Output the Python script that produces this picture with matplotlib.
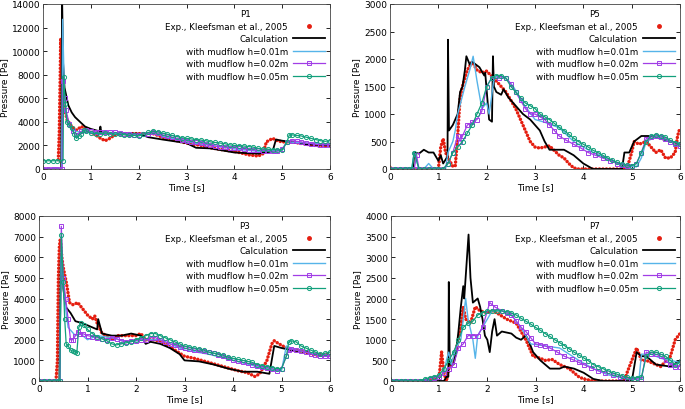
import matplotlib
matplotlib.use("Agg")
import matplotlib.pyplot as plt
from matplotlib.lines import Line2D

plt.rcParams['font.family'] = ['DejaVu Sans']
plt.rcParams['font.size'] = 6

# ---- P1 ----
p1_exp_t = [0.32, 0.34, 0.36, 0.37, 0.39, 0.42, 0.46, 0.5, 0.6, 0.7, 0.8, 0.9, 1.0, 1.1, 1.2, 1.3, 1.4,
            1.5, 1.7, 2.0, 2.3, 2.5, 2.8, 3.0, 3.3, 3.5, 3.8, 4.0, 4.3, 4.5, 4.6, 4.67, 4.8, 4.9, 5.0,
            5.2, 5.5, 5.8, 6.0]
p1_exp_p = [800, 3000, 8000, 11100, 9000, 6500, 5000, 4200, 3600, 3300, 3600, 3400, 3100, 2900, 2600,
            2400, 2600, 2900, 3000, 3000, 3000, 2700, 2400, 2200, 2000, 1800, 1600, 1500, 1200, 1100,
            1300, 2300, 2600, 2400, 2300, 2300, 2100, 1950, 2000]
p1_calc_t = [0.0, 0.38, 0.4, 0.42, 0.45, 0.53, 0.6, 0.67, 0.8, 0.88, 1.0, 1.18, 1.2, 1.22, 1.5, 2.0,
             2.2, 2.5, 3.0, 3.2, 3.5, 4.0, 4.5, 4.8, 4.87, 5.0, 5.5, 6.0]
p1_calc_p = [0, 0, 14300, 9000, 6900, 5400, 4800, 4400, 3900, 3600, 3400, 3200, 3600, 3100, 3000, 3000,
             2700, 2500, 2200, 1800, 1750, 1400, 1300, 1500, 2500, 2400, 2100, 2000]
p1_h1_t = [0.0, 0.39, 0.41, 0.45, 0.5, 0.6, 0.8, 1.0, 1.5, 2.0, 2.3, 2.6, 3.0, 3.5, 4.0, 4.5, 5.0, 5.1,
           5.5, 6.0]
p1_h1_p = [0, 0, 12700, 6000, 4000, 3300, 3100, 3100, 3000, 2900, 3000, 2700, 2300, 2000, 1700, 1500,
           1600, 2300, 2200, 2100]
p1_h2_t = [0.0, 0.1, 0.2, 0.3, 0.4, 0.42, 0.45, 0.48, 0.55, 0.62, 0.7, 0.8, 0.9, 1.0, 1.1, 1.2, 1.3,
           1.4, 1.5, 1.6, 1.7, 1.8, 1.9, 2.0, 2.1, 2.2, 2.3, 2.4, 2.5, 2.6, 2.7, 2.8, 2.9, 3.0, 3.1, 3.2,
           3.3, 3.4, 3.5, 3.6, 3.7, 3.8, 3.9, 4.0, 4.1, 4.2, 4.3, 4.4, 4.5, 4.6, 4.7, 4.8, 4.9, 5.0, 5.1,
           5.2, 5.3, 5.4, 5.5, 5.6, 5.7, 5.8, 5.9, 6.0]
p1_h2_p = [0, 0, 0, 0, 0, 7500, 6000, 5000, 3800, 3200, 2900, 3200, 3300, 3200, 3150, 3100, 3100, 3100,
           3100, 3050, 3000, 2950, 2900, 2900, 2950, 3000, 3100, 3050, 2900, 2800, 2700, 2600, 2500,
           2400, 2300, 2250, 2200, 2100, 2000, 1950, 1900, 1850, 1800, 1800, 1750, 1700, 1650, 1600,
           1600, 1550, 1550, 1500, 1500, 1700, 2300, 2400, 2350, 2300, 2200, 2150, 2100, 2050, 2050, 2050]
p1_h5_t = [0.0, 0.1, 0.2, 0.3, 0.42, 0.43, 0.47, 0.5, 0.55, 0.6, 0.65, 0.7, 0.75, 0.8, 0.85, 0.9, 1.0,
           1.1, 1.2, 1.3, 1.4, 1.5, 1.6, 1.7, 1.8, 1.9, 2.0, 2.1, 2.2, 2.3, 2.4, 2.5, 2.6, 2.7, 2.8, 2.9,
           3.0, 3.1, 3.2, 3.3, 3.4, 3.5, 3.6, 3.7, 3.8, 3.9, 4.0, 4.1, 4.2, 4.3, 4.4, 4.5, 4.6, 4.7, 4.8,
           4.9, 5.0, 5.1, 5.15, 5.2, 5.3, 5.4, 5.5, 5.6, 5.7, 5.8, 5.9, 6.0]
p1_h5_p = [700, 700, 700, 700, 700, 7800, 5500, 4000, 3700, 3500, 3000, 2600, 2800, 3000, 3300, 3200,
           3050, 3000, 3000, 3050, 3000, 2950, 2950, 2900, 2850, 2850, 2800, 2950, 3100, 3200, 3150,
           3050, 2950, 2850, 2750, 2650, 2600, 2550, 2500, 2450, 2400, 2300, 2250, 2200, 2150, 2050,
           2000, 1980, 1950, 1900, 1850, 1750, 1700, 1680, 1650, 1620, 1600, 2300, 2900, 2900, 2850,
           2800, 2700, 2600, 2500, 2400, 2350, 2400]

# ---- P5 ----
p5_exp_t = [0.0, 0.05, 1.0, 1.05, 1.1, 1.15, 1.2, 1.3, 1.35, 1.4, 1.45, 1.5, 1.6, 1.7, 1.8, 1.9, 2.0,
            2.2, 2.4, 2.6, 2.7, 2.8, 2.9, 3.0, 3.1, 3.3, 3.5, 3.6, 3.7, 3.8, 3.9, 4.9, 5.0, 5.05, 5.15,
            5.3, 5.4, 5.5, 5.6, 5.7, 5.8, 5.9, 5.95, 6.0]
p5_exp_p = [30, 0, 0, 400, 550, 300, 200, 50, 50, 600, 1300, 1500, 1800, 1950, 1800, 1750, 1780, 1600,
            1400, 1100, 900, 700, 500, 400, 380, 420, 250, 200, 100, 20, 0, 0, 300, 500, 450, 500, 400,
            300, 350, 200, 200, 300, 600, 750]
p5_calc_t = [0.0, 0.48, 0.5, 0.6, 0.7, 0.8, 0.9, 1.0, 1.05, 1.1, 1.17, 1.19, 1.2, 1.22, 1.3, 1.35, 1.4,
             1.45, 1.5, 1.55, 1.58, 1.65, 1.7, 1.85, 1.95, 1.97, 2.05, 2.11, 2.13, 2.15, 2.2, 2.3, 2.35,
             2.45, 2.55, 2.75, 2.9, 3.1, 3.2, 3.3, 3.6, 3.8, 4.0, 4.2, 4.8, 4.85, 4.95, 5.05, 5.2, 5.4,
             5.6, 5.8, 6.0]
p5_calc_p = [0, 0, 300, 280, 350, 300, 300, 150, 250, 100, 200, 200, 2350, 700, 800, 900, 1000, 1400,
             1500, 1800, 2050, 1900, 1950, 1850, 1700, 1750, 900, 860, 2050, 1500, 1400, 1350, 1450, 1300,
             1200, 1000, 900, 700, 500, 350, 350, 250, 100, 0, 0, 300, 300, 500, 600, 600, 550, 500, 470]
p5_h1_t = [0.0, 0.45, 0.5, 0.6, 0.7, 0.8, 0.9, 1.15, 1.2, 1.3, 1.35, 1.4, 1.55, 1.65, 1.72, 1.8, 1.9,
           2.0, 2.05, 2.1, 2.15, 2.25, 2.4, 2.55, 2.75, 3.0, 3.2, 3.5, 3.8, 4.2, 4.6, 4.9, 5.1, 5.2, 5.3,
           5.5, 5.7, 6.0]
p5_h1_p = [0, 0, 300, 0, 0, 100, 0, 0, 300, 500, 700, 1000, 1500, 1800, 2050, 1600, 1100, 1200, 1000,
           1300, 1650, 1700, 1650, 1500, 1200, 900, 850, 750, 500, 300, 150, 60, 40, 200, 500, 580, 530,
           470]
p5_h2_t = [0.0, 0.1, 0.2, 0.3, 0.4, 0.5, 0.55, 0.6, 0.7, 0.8, 0.9, 1.0, 1.1, 1.2, 1.3, 1.4, 1.45, 1.5,
           1.6, 1.7, 1.8, 1.9, 2.0, 2.1, 2.25, 2.4, 2.5, 2.6, 2.7, 2.8, 2.9, 3.0, 3.1, 3.2, 3.3, 3.4, 3.5,
           3.65, 3.8, 3.95, 4.1, 4.25, 4.4, 4.55, 4.7, 4.8, 4.9, 5.0, 5.1, 5.2, 5.3, 5.4, 5.5, 5.6, 5.7,
           5.8, 5.9, 6.0]
p5_h2_p = [0, 0, 0, 0, 0, 0, 250, 0, 0, 0, 0, 0, 0, 100, 300, 600, 500, 600, 800, 850, 900, 1050, 1500,
           1650, 1650, 1650, 1550, 1400, 1250, 1100, 1000, 1000, 950, 900, 800, 700, 600, 520, 450, 380,
           300, 250, 200, 150, 100, 80, 50, 60, 100, 300, 550, 580, 600, 580, 550, 500, 450, 420]
p5_h5_t = [0.0, 0.1, 0.2, 0.3, 0.4, 0.45, 0.5, 0.6, 0.7, 0.8, 0.9, 1.0, 1.1, 1.2, 1.3, 1.4, 1.5, 1.6,
           1.7, 1.8, 1.9, 2.0, 2.1, 2.2, 2.3, 2.4, 2.5, 2.6, 2.7, 2.8, 2.9, 3.0, 3.1, 3.2, 3.3, 3.4, 3.5,
           3.6, 3.7, 3.8, 3.9, 4.0, 4.1, 4.2, 4.3, 4.4, 4.5, 4.6, 4.7, 4.8, 4.9, 5.0, 5.1, 5.2, 5.3, 5.4,
           5.5, 5.6, 5.7, 5.8, 5.9, 6.0]
p5_h5_p = [0, 0, 0, 0, 0, 0, 300, 0, 0, 0, 0, 0, 0, 100, 300, 400, 500, 650, 800, 1000, 1200, 1500,
           1650, 1700, 1700, 1650, 1500, 1400, 1300, 1200, 1150, 1100, 1000, 950, 900, 830, 760, 700,
           630, 560, 500, 450, 400, 340, 300, 250, 200, 160, 120, 90, 70, 60, 100, 300, 500, 600, 620,
           600, 580, 520, 480, 450]

# ---- P3 ----
p3_exp_t = [0.0, 0.35, 0.38, 0.4, 0.42, 0.44, 0.47, 0.5, 0.57, 0.63, 0.7, 0.8, 0.9, 1.0, 1.1, 1.15,
            1.2, 1.3, 1.4, 1.5, 1.6, 1.8, 2.0, 2.1, 2.2, 2.4, 2.6, 2.8, 3.0, 3.2, 3.5, 3.8, 4.1, 4.3,
            4.45, 4.55, 4.7, 4.8, 4.85, 4.95, 5.1, 5.3, 5.5, 5.7, 6.0]
p3_exp_p = [0, 0, 1000, 5000, 6500, 6900, 6000, 5500, 4700, 3800, 3700, 3800, 3500, 3200, 3000, 3150,
            2800, 2300, 2200, 2000, 2200, 2200, 2200, 2300, 2000, 2000, 1800, 1500, 1200, 1100, 900,
            700, 500, 400, 220, 350, 1000, 1800, 1950, 1800, 1600, 1500, 1400, 1250, 1300]
p3_calc_t = [0.0, 0.42, 0.45, 0.5, 0.55, 0.65, 0.75, 0.9, 1.0, 1.2, 1.22, 1.3, 1.5, 1.7, 1.9, 2.1, 2.2,
             2.3, 2.5, 2.7, 2.9, 3.0, 3.3, 3.6, 3.9, 4.2, 4.5, 4.75, 4.85, 5.0, 5.2, 5.5, 6.0]
p3_calc_p = [0, 0, 6000, 4500, 3600, 3300, 2900, 2800, 2700, 2500, 3000, 2300, 2200, 2200, 2300, 2200,
             1800, 1900, 1800, 1600, 1300, 1000, 950, 800, 600, 450, 450, 350, 1700, 1600, 1500, 1400,
             1200]
p3_h1_t = [0.0, 0.43, 0.45, 0.5, 0.55, 0.6, 0.75, 0.85, 1.0, 1.2, 1.5, 1.8, 2.2, 2.5, 2.8, 3.0, 3.5,
           4.0, 4.5, 4.9, 5.0, 5.1, 5.3, 5.5, 6.0]
p3_h1_p = [0, 0, 6000, 4500, 3500, 2600, 2200, 2300, 2000, 2200, 2100, 1900, 2000, 2000, 1700, 1500,
           1300, 1000, 700, 500, 500, 1700, 1500, 1400, 1200]
p3_h2_t = [0.0, 0.1, 0.2, 0.3, 0.4, 0.43, 0.46, 0.5, 0.55, 0.6, 0.65, 0.7, 0.75, 0.8, 0.85, 0.9, 1.0,
           1.1, 1.2, 1.3, 1.4, 1.5, 1.6, 1.7, 1.8, 1.9, 2.0, 2.1, 2.2, 2.3, 2.4, 2.5, 2.6, 2.7, 2.8, 2.9,
           3.0, 3.1, 3.2, 3.3, 3.4, 3.5, 3.6, 3.7, 3.8, 3.9, 4.0, 4.1, 4.2, 4.3, 4.4, 4.5, 4.6, 4.7, 4.8,
           4.9, 5.0, 5.1, 5.15, 5.2, 5.3, 5.4, 5.5, 5.6, 5.7, 5.8, 5.9, 6.0]
p3_h2_p = [0, 0, 0, 0, 0, 0, 7500, 5000, 4000, 3000, 2000, 2000, 2200, 2400, 2300, 2300, 2200, 2150,
           2100, 2050, 2000, 2100, 2050, 1950, 1900, 1950, 1950, 2000, 2000, 2100, 2100, 2000, 1900,
           1800, 1750, 1650, 1600, 1550, 1500, 1480, 1450, 1400, 1350, 1280, 1200, 1100, 1000, 950, 900,
           850, 800, 750, 700, 650, 600, 500, 600, 1200, 1500, 1550, 1500, 1450, 1400, 1300, 1250, 1200,
           1200, 1200]
p3_h5_t = [0.0, 0.1, 0.2, 0.3, 0.4, 0.43, 0.46, 0.5, 0.53, 0.56, 0.6, 0.65, 0.7, 0.75, 0.78, 0.82,
           0.87, 0.92, 1.0, 1.1, 1.2, 1.3, 1.4, 1.5, 1.6, 1.7, 1.8, 1.9, 2.0, 2.1, 2.2, 2.3, 2.4, 2.5,
           2.6, 2.7, 2.8, 2.9, 3.0, 3.1, 3.2, 3.3, 3.4, 3.5, 3.6, 3.7, 3.8, 3.9, 4.0, 4.1, 4.2, 4.3, 4.4,
           4.5, 4.6, 4.7, 4.8, 4.9, 5.0, 5.1, 5.15, 5.2, 5.3, 5.4, 5.5, 5.6, 5.7, 5.8, 5.9, 6.0]
p3_h5_p = [0, 0, 0, 0, 0, 0, 7100, 4800, 3000, 1800, 1700, 1500, 1450, 1400, 1350, 2600, 2800, 2700,
           2500, 2300, 2150, 2050, 1950, 1800, 1750, 1800, 1850, 1900, 2000, 2100, 2200, 2300, 2300,
           2200, 2100, 2000, 1900, 1800, 1700, 1650, 1600, 1550, 1500, 1400, 1350, 1300, 1250, 1150,
           1100, 1050, 1000, 950, 900, 800, 750, 700, 650, 600, 600, 1200, 1900, 1950, 1900, 1700, 1600,
           1500, 1400, 1300, 1350, 1400]

# ---- P7 ----
p7_exp_t = [0.0, 0.7, 0.9, 1.0, 1.05, 1.1, 1.15, 1.2, 1.3, 1.4, 1.45, 1.5, 1.55, 1.65, 1.75, 1.85, 2.0,
            2.1, 2.2, 2.4, 2.6, 2.8, 2.95, 3.1, 3.2, 3.35, 3.5, 3.7, 3.9, 4.0, 4.2, 4.85, 4.9, 5.0, 5.1,
            5.2, 5.3, 5.5, 5.6, 5.8, 5.85, 5.9, 6.0]
p7_exp_p = [0, 0, 50, 100, 700, 200, 0, 300, 500, 1000, 1300, 1800, 1500, 1400, 1800, 1700, 1650,
            1700, 1650, 1500, 1400, 1000, 600, 550, 500, 520, 400, 300, 100, 50, 0, 0, 200, 500, 800, 500,
            500, 400, 350, 600, 800, 1000, 1150]
p7_calc_t = [0.0, 1.1, 1.15, 1.19, 1.2, 1.22, 1.3, 1.35, 1.4, 1.45, 1.5, 1.52, 1.61, 1.65, 1.7, 1.8,
             1.85, 1.9, 1.95, 2.0, 2.05, 2.1, 2.15, 2.2, 2.3, 2.5, 2.6, 2.7, 2.8, 2.85, 2.95, 3.1, 3.3,
             3.5, 3.6, 3.8, 4.0, 4.2, 4.4, 5.0, 5.1, 5.2, 5.3, 5.5, 5.8, 6.0]
p7_calc_p = [0, 0, 100, 100, 2400, 400, 400, 700, 1200, 1800, 2300, 2000, 3550, 2500, 1900, 2000, 1800,
             1500, 1100, 1000, 700, 1200, 1500, 1100, 1200, 1150, 1050, 1000, 1100, 1000, 700, 500, 300,
             300, 350, 300, 200, 50, 0, 0, 700, 600, 600, 400, 350, 500]
p7_h1_t = [0.0, 0.9, 1.0, 1.1, 1.15, 1.2, 1.25, 1.35, 1.45, 1.55, 1.6, 1.7, 1.75, 1.8, 1.85, 1.95, 2.1,
           2.3, 2.5, 2.7, 2.9, 3.2, 3.5, 3.9, 4.2, 4.5, 4.9, 5.15, 5.2, 5.4, 5.6, 6.0]
p7_h1_p = [0, 0, 100, 200, 500, 700, 400, 800, 1000, 2000, 1500, 1000, 550, 1100, 1200, 1400, 1700,
           1700, 1600, 1300, 900, 850, 800, 500, 300, 150, 50, 50, 650, 650, 550, 450]
p7_h2_t = [0.0, 0.1, 0.2, 0.3, 0.4, 0.5, 0.6, 0.7, 0.8, 0.9, 1.0, 1.1, 1.2, 1.3, 1.4, 1.5, 1.6, 1.7,
           1.8, 1.9, 2.05, 2.15, 2.3, 2.4, 2.5, 2.6, 2.7, 2.8, 2.9, 3.0, 3.1, 3.2, 3.3, 3.45, 3.6, 3.75,
           3.9, 4.0, 4.15, 4.3, 4.45, 4.6, 4.75, 4.9, 5.05, 5.2, 5.3, 5.4, 5.5, 5.6, 5.7, 5.8, 5.9, 6.0]
p7_h2_p = [0, 0, 0, 0, 0, 0, 0, 0, 50, 80, 100, 200, 300, 400, 800, 900, 1100, 1100, 1100, 1300, 1900,
           1800, 1700, 1650, 1600, 1450, 1300, 1200, 1050, 900, 880, 850, 800, 700, 600, 530, 450, 400,
           320, 250, 200, 150, 100, 50, 50, 50, 700, 650, 650, 600, 500, 400, 350, 350]
p7_h5_t = [0.0, 0.1, 0.2, 0.3, 0.4, 0.5, 0.6, 0.7, 0.8, 0.9, 1.0, 1.1, 1.2, 1.3, 1.4, 1.5, 1.6, 1.7,
           1.8, 1.9, 2.0, 2.1, 2.2, 2.3, 2.4, 2.5, 2.6, 2.7, 2.8, 2.9, 3.0, 3.1, 3.2, 3.3, 3.4, 3.5, 3.6,
           3.7, 3.8, 3.9, 4.0, 4.1, 4.2, 4.3, 4.4, 4.5, 4.6, 4.7, 4.8, 4.9, 5.0, 5.1, 5.2, 5.3, 5.4,
           5.5, 5.6, 5.7, 5.8, 5.9, 6.0]
p7_h5_p = [0, 0, 0, 0, 0, 0, 0, 50, 80, 100, 150, 300, 500, 700, 1000, 1300, 1400, 1450, 1600, 1650,
           1700, 1700, 1700, 1700, 1680, 1650, 1600, 1520, 1450, 1380, 1300, 1230, 1150, 1080, 1000, 930,
           860, 780, 700, 630, 560, 490, 400, 350, 300, 250, 200, 160, 120, 90, 70, 80, 100, 600, 700,
           700, 650, 600, 500, 400, 450]

labels = ['Exp., Kleefsman et al., 2005', 'Calculation', 'with mudflow h=0.01m',
          'with mudflow h=0.02m', 'with mudflow h=0.05m']

RED = '#e51e10'
BLUE = '#56b4e9'
PURPLE = '#a13de6'
GREEN = '#12a07c'

W, H = 685, 410
fig = plt.figure(figsize=(W / 100, H / 100), dpi=100)


def make_axes(l, r, t, b):
    return fig.add_axes([l / W, 1 - b / H, (r - l) / W, (b - t) / H])


def draw_panel(ax, name, exp, calc, h1, h2, h5, ymax, ystep):
    # experiment drawn as a dense chain of round dots
    ax.plot(exp[0], exp[1], color=RED, lw=2.5, ls=(0, (0.01, 1.0)), dash_capstyle='round')
    ax.plot(calc[0], calc[1], color='black', lw=1.3)
    ax.plot(h1[0], h1[1], color=BLUE, lw=1.0)
    ax.plot(h2[0], h2[1], color=PURPLE, lw=0.9, marker='s', ms=3, mfc='none', mew=0.7)
    ax.plot(h5[0], h5[1], color=GREEN, lw=0.9, marker='o', ms=3, mfc='none', mew=0.7)

    ax.set_xlim(0, 6)
    ax.set_ylim(0, ymax)
    ax.set_xticks(range(0, 7))
    ax.set_yticks(range(0, ymax + 1, ystep))
    ax.tick_params(direction='in', top=True, right=True, length=3, width=0.6,
                   labelsize=6.5, pad=2)
    for s in ax.spines.values():
        s.set_linewidth(0.6)
        s.set_color('#444444')
    ax.set_xlabel('Time [s]', fontsize=6.5, labelpad=1)
    ax.set_ylabel('Pressure [Pa]', fontsize=6.5, labelpad=2)

    handles = [
        Line2D([], [], color=RED, ls='none', marker='o', ms=2.5),
        Line2D([], [], color='black', lw=1.3),
        Line2D([], [], color=BLUE, lw=1.0),
        Line2D([], [], color=PURPLE, lw=0.9, marker='s', ms=3, mfc='none', mew=0.7),
        Line2D([], [], color=GREEN, lw=0.9, marker='o', ms=3, mfc='none', mew=0.7),
    ]
    ax.legend(handles, labels, title=name, loc='upper right', frameon=False,
              markerfirst=False, fontsize=6.3, title_fontsize=6.3,
              handlelength=3.6, handletextpad=0.6, labelspacing=0.4,
              borderaxespad=0.4, borderpad=0.2)


ax1 = make_axes(43, 330, 5, 170)
draw_panel(ax1, 'P1', (p1_exp_t, p1_exp_p), (p1_calc_t, p1_calc_p), (p1_h1_t, p1_h1_p),
           (p1_h2_t, p1_h2_p), (p1_h5_t, p1_h5_p), 14000, 2000)

ax2 = make_axes(390, 680, 5, 170)
draw_panel(ax2, 'P5', (p5_exp_t, p5_exp_p), (p5_calc_t, p5_calc_p), (p5_h1_t, p5_h1_p),
           (p5_h2_t, p5_h2_p), (p5_h5_t, p5_h5_p), 3000, 500)

ax3 = make_axes(39, 330, 217, 382)
draw_panel(ax3, 'P3', (p3_exp_t, p3_exp_p), (p3_calc_t, p3_calc_p), (p3_h1_t, p3_h1_p),
           (p3_h2_t, p3_h2_p), (p3_h5_t, p3_h5_p), 8000, 1000)

ax4 = make_axes(391, 680, 217, 382)
draw_panel(ax4, 'P7', (p7_exp_t, p7_exp_p), (p7_calc_t, p7_calc_p), (p7_h1_t, p7_h1_p),
           (p7_h2_t, p7_h2_p), (p7_h5_t, p7_h5_p), 4000, 500)

fig.savefig('out.png', dpi=100)
